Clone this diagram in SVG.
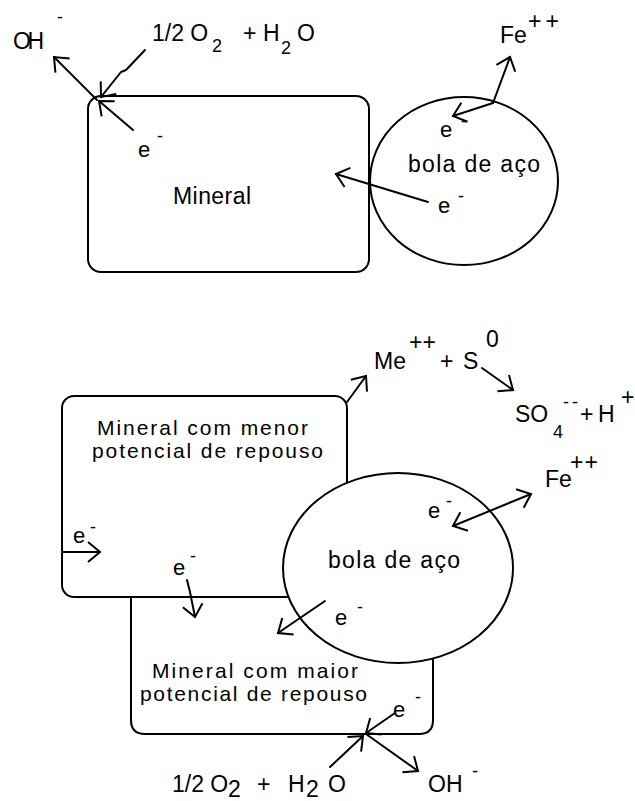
<svg xmlns="http://www.w3.org/2000/svg" width="635" height="801" viewBox="0 0 635 801">
<defs>
<marker id="ah" markerUnits="userSpaceOnUse" markerWidth="20" markerHeight="26" refX="13" refY="11" orient="auto-start-reverse" overflow="visible">
<path d="M1,1 L13,11 L1,21" fill="none" stroke="#000" stroke-width="2"/>
</marker>
<style>
.b{fill:#fff;stroke:#000;stroke-width:2}
.c{fill:none;stroke:#000;stroke-width:2;stroke-linecap:round;stroke-linejoin:round;marker-end:url(#ah)}
text{font-family:"Liberation Sans",Arial,sans-serif;fill:#000;font-size:23px}
.e{font-size:22px}
.sm{font-size:18px}
.two{font-size:21px}
</style>
</defs>
<rect width="635" height="801" fill="#fff"/>

<!-- Top section -->
<g id="mineral-top">
<rect class="b" x="88" y="96" width="281" height="176" rx="13"/>
<text x="173" y="204" textLength="78">Mineral</text>
</g>
<g id="bola-top">
<ellipse class="b" cx="464" cy="181" rx="94" ry="84"/>
<text x="408" y="172" textLength="132">bola de aço</text>
</g>

<!-- Bottom section -->
<g id="mineral-menor">
<rect class="b" x="62" y="396" width="285" height="201" rx="12"/>
<text class="two" x="97" y="435" textLength="211">Mineral com menor</text>
<text class="two" x="92" y="458" textLength="231">potencial de repouso</text>
</g>
<g id="mineral-maior">
<path class="b" d="M131,597 L131,720 Q131,734 145,734 L419,734 Q433,734 433,720 L433,597 Z"/>
</g>
<g id="bola-bottom">
<ellipse class="b" cx="398" cy="568" rx="115" ry="95"/>
<text x="328" y="568" textLength="132">bola de aço</text>
</g>
<g id="mineral-maior-label">
<text class="two" x="152" y="678" textLength="206">Mineral com maior</text>
<text class="two" x="140" y="701" textLength="227">potencial de repouso</text>
</g>

<!-- Connectors -->
<g id="connectors">
<path class="c" d="M97,100 L54,57"/>
<path class="c" d="M145,50 L126,70 L121,72 L101,97"/>
<path class="c" d="M133,130 L99,101"/>
<path class="c" d="M493,103 L510,57"/>
<path class="c" d="M493,103 L453,116"/>
<path class="c" d="M428,202 L336,174"/>
<path class="c" d="M347,402 L366,376"/>
<path class="c" d="M482,368 L513,390"/>
<path class="c" style="marker-start:url(#ah)" d="M453,526 L531,494"/>
<path class="c" d="M62,552 L100,552"/>
<path class="c" d="M187,580 L190,592 L195,617"/>
<path class="c" d="M325,601 L278,633"/>
<path class="c" d="M395,713 L366,733"/>
<path class="c" d="M330,767 L363,736"/>
<path class="c" d="M366,734 L418,771"/>
</g>

<!-- Labels top -->
<g id="labels-top">
<text x="13" y="49" textLength="31">OH</text>
<text class="sm" x="57" y="23">-</text>
<text x="152" y="41">1/2 O</text>
<text class="sm" x="212" y="52">2</text>
<text x="243" y="41">+</text>
<text x="263" y="41">H</text>
<text class="sm" x="281" y="54">2</text>
<text x="297" y="41">O</text>
<text x="500" y="43">Fe</text>
<text x="528" y="29" font-size="20" textLength="31">++</text>
<text class="e" x="138" y="157">e</text>
<text class="sm" x="157" y="142">-</text>
<text class="e" x="440" y="137">e</text>
<text class="sm" x="461" y="127">-</text>
<text class="e" x="438" y="213">e</text>
<text class="sm" x="458" y="202">-</text>
</g>

<!-- Labels bottom -->
<g id="labels-bottom">
<text x="374" y="369">Me</text>
<text x="409" y="350" font-size="20" textLength="27">++</text>
<text x="440" y="369">+</text>
<text x="463" y="369">S</text>
<text x="486" y="347" font-size="17">0</text>
<text x="515" y="422">SO</text>
<text class="sm" x="553" y="438">4</text>
<text class="sm" x="563" y="408" textLength="15">--</text>
<text x="580" y="422">+</text>
<text x="598" y="422">H</text>
<text x="621" y="405" font-size="20">+</text>
<text x="545" y="487">Fe</text>
<text x="570" y="470" font-size="20" textLength="28">++</text>
<text class="e" x="428" y="518">e</text>
<text class="sm" x="446" y="507">-</text>
<text class="e" x="335" y="625">e</text>
<text class="sm" x="357" y="613">-</text>
<text class="e" x="73" y="543">e</text>
<text class="sm" x="90" y="533">-</text>
<text class="e" x="173" y="575">e</text>
<text class="sm" x="190" y="562">-</text>
<text class="e" x="393" y="717">e</text>
<text class="sm" x="415" y="703">-</text>
<text x="172" y="792" font-size="22">1/2 O</text>
<text x="228" y="797" font-size="16">2</text>
<text x="257" y="792" font-size="22">+</text>
<text x="288" y="792" font-size="22">H</text>
<text x="306" y="797" font-size="16">2</text>
<text x="328" y="792" font-size="22">O</text>
<text x="428" y="792" font-size="22">OH</text>
<text class="sm" x="472" y="777">-</text>
</g>
</svg>
